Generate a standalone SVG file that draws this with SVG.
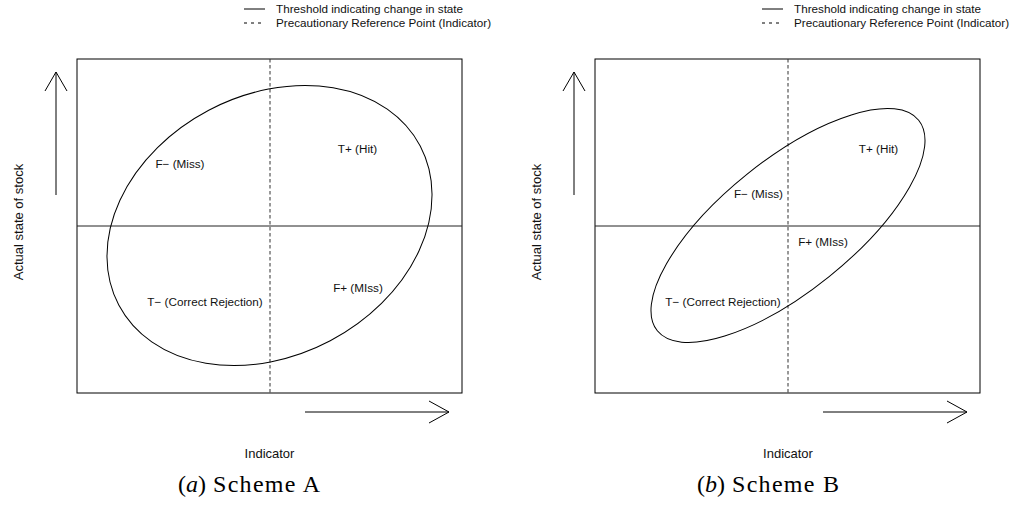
<svg xmlns="http://www.w3.org/2000/svg" width="1016" height="529" viewBox="0 0 1016 529">
<style>
.ln{stroke:#000;stroke-width:1;fill:none}
.th{stroke:#222;stroke-width:1;fill:none}
.ds{stroke:#333;stroke-width:1;fill:none;stroke-dasharray:3.5,2.5}
.t{font-family:"Liberation Sans",Arial,sans-serif;font-size:11.7px;fill:#111}
.ax{font-family:"Liberation Sans",Arial,sans-serif;font-size:13px;fill:#111}
.cap{font-family:"Liberation Serif","Times New Roman",serif;font-size:24px;fill:#000}
.sch{letter-spacing:1.3px}
</style>
<rect width="1016" height="529" fill="#fff"/>

<!-- Panel A -->
<g id="legendA">
<line class="ln" x1="244" y1="9" x2="265" y2="9"/>
<line class="ln" x1="244" y1="23" x2="265" y2="23" stroke-dasharray="3,4"/>
<text class="t" x="276" y="12.5">Threshold indicating change in state</text>
<text class="t" x="276" y="26.5">Precautionary Reference Point (Indicator)</text>
</g>
<g id="panelA">
<rect class="ln" x="77" y="59" width="385" height="334"/>
<line class="th" x1="77" y1="226" x2="462" y2="226"/>
<line class="ds" x1="270" y1="59" x2="270" y2="393"/>
<ellipse class="ln" cx="269.5" cy="225.5" rx="170.4" ry="130.3" transform="rotate(-27.8 269.5 225.5)"/>
</g>
<g id="labelsA">
<text class="t" x="180" y="168" text-anchor="middle">F− (Miss)</text>
<text class="t" x="357.5" y="153" text-anchor="middle">T+ (Hit)</text>
<text class="t" x="205" y="306" text-anchor="middle">T− (Correct Rejection)</text>
<text class="t" x="358" y="292" text-anchor="middle">F+ (MIss)</text>
</g>
<g id="axesA">
<line class="ln" x1="56" y1="195" x2="56" y2="72"/>
<polyline class="ln" points="45,91 56,72 67,91"/>
<line class="ln" x1="305" y1="412" x2="449" y2="412"/>
<polyline class="ln" points="429,401 449,412 429,423"/>
<text class="ax" x="269.5" y="458" text-anchor="middle">Indicator</text>
<text class="ax" transform="translate(22.5 222) rotate(-90)" text-anchor="middle">Actual state of stock</text>
</g>
<g id="captionA">
<text class="cap" x="178" y="492">(<tspan font-style="italic">a</tspan>)</text>
<text class="cap sch" x="213" y="492">Scheme A</text>
</g>

<!-- Panel B -->
<g id="legendB">
<line class="ln" x1="762" y1="9" x2="783" y2="9"/>
<line class="ln" x1="762" y1="23" x2="783" y2="23" stroke-dasharray="3,4"/>
<text class="t" x="794" y="12.5">Threshold indicating change in state</text>
<text class="t" x="794" y="26.5">Precautionary Reference Point (Indicator)</text>
</g>
<g id="panelB">
<rect class="ln" x="595" y="59" width="385" height="334"/>
<line class="th" x1="595" y1="226" x2="980" y2="226"/>
<line class="ds" x1="788" y1="59" x2="788" y2="393"/>
<ellipse class="ln" cx="788" cy="225.5" rx="167.8" ry="65.6" transform="rotate(-38.85 788 225.5)"/>
</g>
<g id="labelsB">
<text class="t" x="758.5" y="198" text-anchor="middle">F− (Miss)</text>
<text class="t" x="878.5" y="153" text-anchor="middle">T+ (Hit)</text>
<text class="t" x="723" y="306" text-anchor="middle">T− (Correct Rejection)</text>
<text class="t" x="823" y="246" text-anchor="middle">F+ (MIss)</text>
</g>
<g id="axesB">
<line class="ln" x1="574" y1="195" x2="574" y2="72"/>
<polyline class="ln" points="563,91 574,72 585,91"/>
<line class="ln" x1="823" y1="412" x2="967" y2="412"/>
<polyline class="ln" points="947,401 967,412 947,423"/>
<text class="ax" x="788" y="458" text-anchor="middle">Indicator</text>
<text class="ax" transform="translate(540.5 222) rotate(-90)" text-anchor="middle">Actual state of stock</text>
</g>
<g id="captionB">
<text class="cap" x="697" y="492">(<tspan font-style="italic">b</tspan>)</text>
<text class="cap sch" x="732" y="492">Scheme B</text>
</g>
</svg>
